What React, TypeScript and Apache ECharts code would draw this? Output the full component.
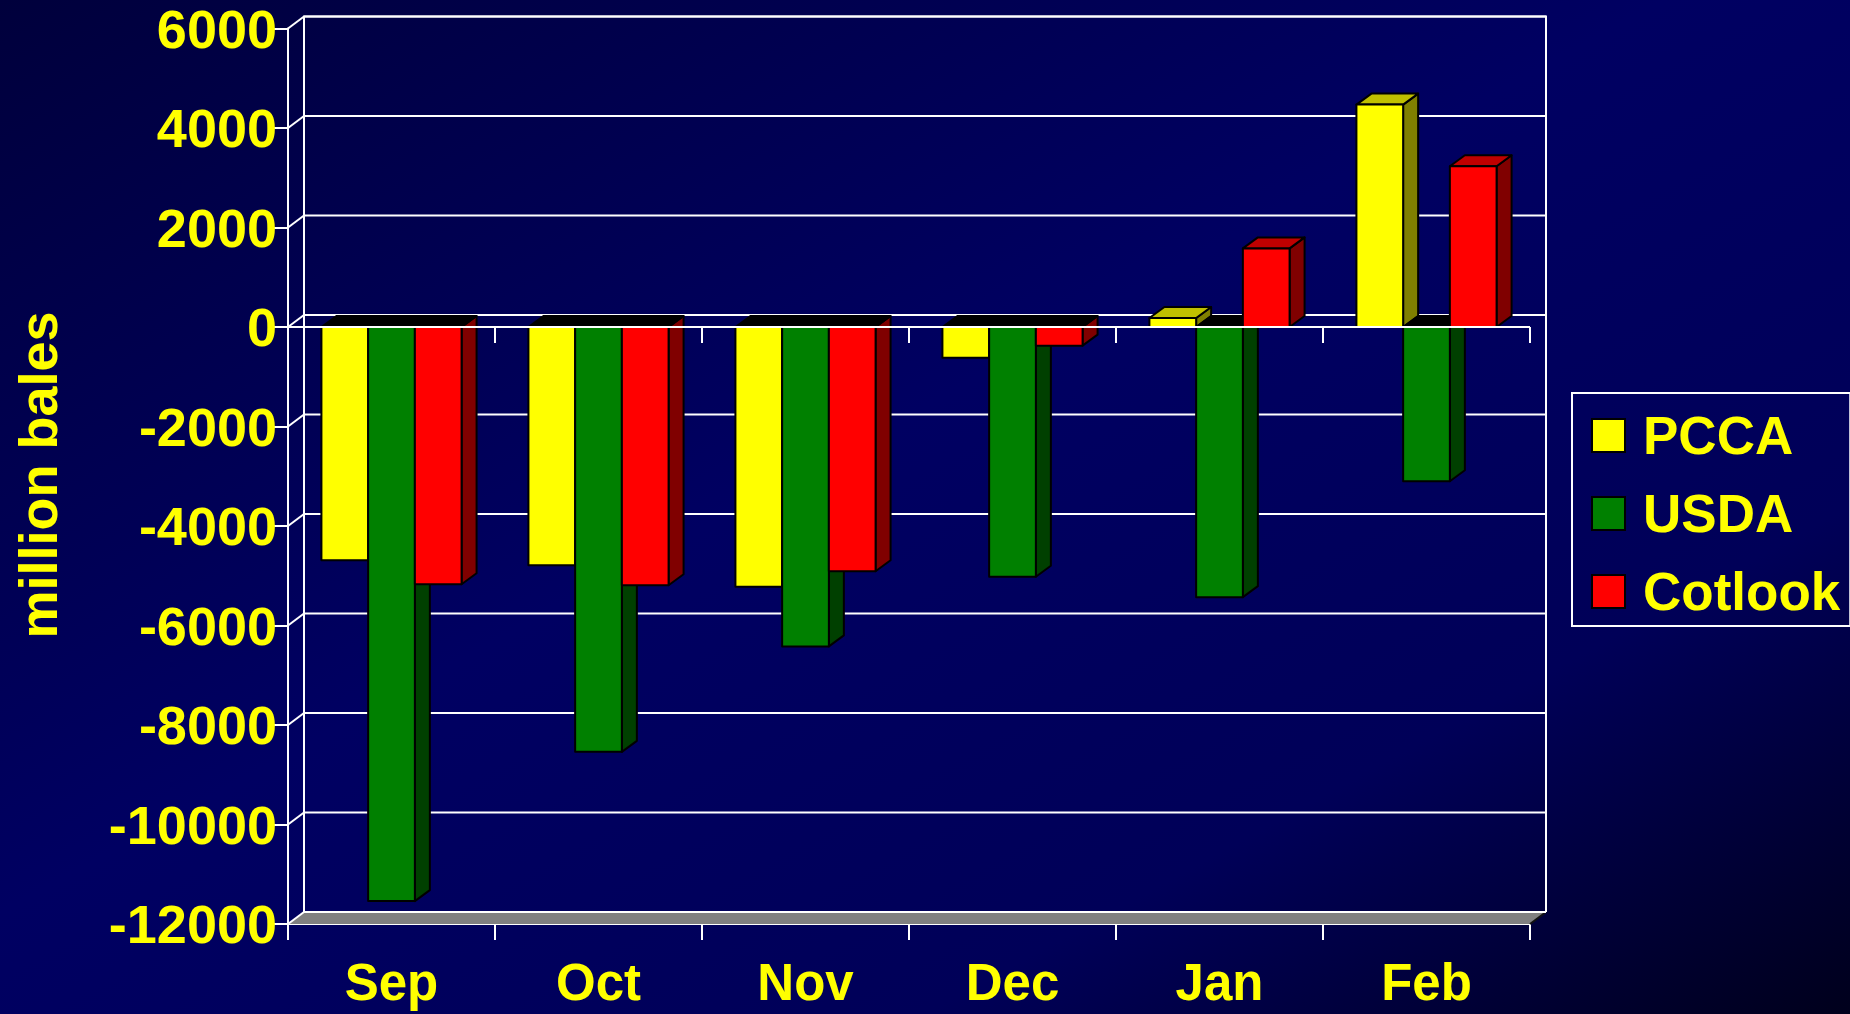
import React, { useEffect, useRef } from "react";
import * as echarts from "echarts";

// ---- data ----
const months = ["Sep", "Oct", "Nov", "Dec", "Jan", "Feb"];
const seriesNames = ["PCCA", "USDA", "Cotlook"];
const pcca = [-4690, -4790, -5220, -620, 180, 4470];
const usda = [-11540, -8540, -6420, -5020, -5430, -3100];
const cotlook = [-5170, -5190, -4910, -375, 1580, 3230];
const yTickValues = [-12000, -10000, -8000, -6000, -4000, -2000, 0, 2000, 4000, 6000];
const yTitle = "million bales";

// ---- style ----
const FONT = "'Liberation Sans', Arial, Helvetica, sans-serif";
const YELLOW = "#ffff00";
const frontColors = ["#ffff00", "#008000", "#ff0000"];
const sideColors = ["#808000", "#004000", "#800000"];
const topColors = ["#c0c000", "#006000", "#c00000"];
const WALL_D = [16, -12];
const BAR_D = [15, -11];
const BAR_FRACTION = 0.2257;

function catWidth(api: any) {
  return api.coord([1, 0])[0] - api.coord([0, 0])[0];
}

function barRenderer(k: number) {
  return (params: any, api: any) => {
    const i = api.value(0);
    const v = api.value(1);
    const base = api.coord([i, 0]);
    const end = api.coord([i, v]);
    const bw = catWidth(api) * BAR_FRACTION;
    const x0 = base[0] - 1.5 * bw + k * bw;
    const x1 = x0 + bw;
    const yTop = Math.min(base[1], end[1]);
    const yBot = Math.max(base[1], end[1]);
    const [dx, dy] = BAR_D;
    const stroke = { stroke: "#000", lineWidth: 2, lineJoin: "round" };
    return {
      type: "group",
      children: [
        {
          type: "polygon",
          shape: { points: [[x1, yTop], [x1 + dx, yTop + dy], [x1 + dx, yBot + dy], [x1, yBot]] },
          style: { fill: sideColors[k], ...stroke },
        },
        {
          type: "polygon",
          shape: { points: [[x0, yTop], [x0 + dx, yTop + dy], [x1 + dx, yTop + dy], [x1, yTop]] },
          style: { fill: v >= 0 ? topColors[k] : "#000", ...stroke },
        },
        {
          type: "rect",
          shape: { x: x0, y: yTop, width: bw, height: yBot - yTop },
          style: { fill: frontColors[k], ...stroke },
        },
      ],
    };
  };
}

function frameRenderer(params: any, api: any) {
  const cw = catWidth(api);
  const xL = api.coord([0, 0])[0] - cw / 2;
  const xR = api.coord([months.length - 1, 0])[0] + cw / 2;
  const [dx, dy] = WALL_D;
  const yMin = api.coord([0, yTickValues[0]])[1];
  const yMax = api.coord([0, yTickValues[yTickValues.length - 1]])[1];
  const line = { stroke: "#ffffff", lineWidth: 2 };
  const children: any[] = [];
  // floor
  children.push({
    type: "polygon",
    shape: { points: [[xL, yMin], [xL + dx, yMin + dy], [xR + dx, yMin + dy], [xR, yMin]] },
    style: { fill: "#808080" },
  });
  children.push({ type: "line", shape: { x1: xR, y1: yMin, x2: xR + dx, y2: yMin + dy }, style: { stroke: "#111", lineWidth: 2 } });
  // back wall gridlines + left wall diagonals
  yTickValues.forEach((t) => {
    const y = api.coord([0, t])[1];
    children.push({ type: "line", shape: { x1: xL + dx, y1: y + dy, x2: xR + dx, y2: y + dy }, style: line });
    children.push({ type: "line", shape: { x1: xL, y1: y, x2: xL + dx, y2: y + dy }, style: line });
  });
  // back wall edges
  children.push({
    type: "polyline",
    shape: { points: [[xL + dx, yMin + dy], [xL + dx, yMax + dy], [xR + dx, yMax + dy], [xR + dx, yMin + dy]] },
    style: { ...line, fill: null },
  });
  return { type: "group", children };
}

function zeroAxisRenderer(params: any, api: any) {
  const cw = catWidth(api);
  const xL = api.coord([0, 0])[0] - cw / 2;
  const y0 = api.coord([0, 0])[1];
  const line = { stroke: "#ffffff", lineWidth: 2 };
  const children: any[] = [];
  children.push({ type: "line", shape: { x1: xL, y1: y0, x2: xL + cw * months.length, y2: y0 }, style: line });
  for (let i = 1; i <= months.length; i++) {
    const x = xL + cw * i;
    children.push({ type: "line", shape: { x1: x, y1: y0, x2: x, y2: y0 + 16 }, style: line });
  }
  return { type: "group", children };
}

export default function App() {
  const ref = useRef<HTMLDivElement>(null);
  useEffect(() => {
    if (!ref.current) return;
    const chart = echarts.init(ref.current, undefined, { renderer: "svg" });
    const values = [pcca, usda, cotlook];
    chart.setOption({
      animation: false,
      backgroundColor: new echarts.graphic.LinearGradient(0, 0, 1, 1, [
        { offset: 0, color: "#00003c" },
        { offset: 0.45, color: "#000062" },
        { offset: 0.75, color: "#000058" },
        { offset: 1, color: "#00001c" },
      ]),
      textStyle: { fontFamily: FONT },
      grid: { left: 288, right: 320, top: 28.5, bottom: 90, containLabel: false },
      xAxis: {
        type: "category",
        data: months,
        boundaryGap: true,
        axisLine: { onZero: false, lineStyle: { color: "#ffffff", width: 2 } },
        axisTick: { show: true, length: 16, interval: 0, lineStyle: { color: "#ffffff", width: 2 } },
        axisLabel: { color: YELLOW, fontSize: 51, fontWeight: "bold", fontFamily: FONT, margin: 33, interval: 0 },
        splitLine: { show: false },
      },
      yAxis: {
        type: "value",
        min: -12000,
        max: 6000,
        interval: 2000,
        axisLine: { show: true, lineStyle: { color: "#ffffff", width: 2 } },
        axisTick: { show: true, length: 16, lineStyle: { color: "#ffffff", width: 2 } },
        axisLabel: {
          color: YELLOW,
          fontSize: 54,
          fontWeight: "bold",
          fontFamily: FONT,
          margin: 11,
          formatter: (v: number) => String(v),
        },
        splitLine: { show: false },
      },
      legend: {
        data: seriesNames,
        orient: "vertical",
        left: 1572,
        top: 393,
        padding: [16, 10, 8, 19],
        itemWidth: 33,
        itemHeight: 33,
        itemGap: 25,
        icon: "rect",
        selectedMode: false,
        borderColor: "#ffffff",
        borderWidth: 2,
        itemStyle: { borderColor: "#000", borderWidth: 2 },
        textStyle: { color: YELLOW, fontSize: 53, fontWeight: "bold", fontFamily: FONT, padding: [0, 0, 0, 13] },
      },
      graphic: [
        {
          type: "text",
          x: 38,
          y: 475,
          rotation: Math.PI / 2,
          style: {
            text: yTitle,
            fill: YELLOW,
            font: `bold 54px ${FONT}`,
            align: "center",
            verticalAlign: "middle",
          },
        },
      ],
      series: [
        {
          type: "custom",
          name: "frame",
          z: 1,
          silent: true,
          renderItem: frameRenderer,
          data: [[0, 0]],
          encode: { x: 0, y: 1 },
        },
        ...seriesNames.map((name, k) => ({
          type: "custom",
          name,
          z: 2,
          itemStyle: { color: frontColors[k] },
          renderItem: barRenderer(k),
          data: values[k].map((v, i) => [i, v]),
          encode: { x: 0, y: 1 },
        })),
        {
          type: "custom",
          name: "zeroAxis",
          z: 5,
          silent: true,
          renderItem: zeroAxisRenderer,
          data: [[0, 0]],
          encode: { x: 0, y: 1 },
        },
      ],
    });
    return () => chart.dispose();
  }, []);
  return (
    <div
      ref={ref}
      style={{ position: "fixed", left: 0, top: 0, width: 1850, height: 1014 }}
    />
  );
}
